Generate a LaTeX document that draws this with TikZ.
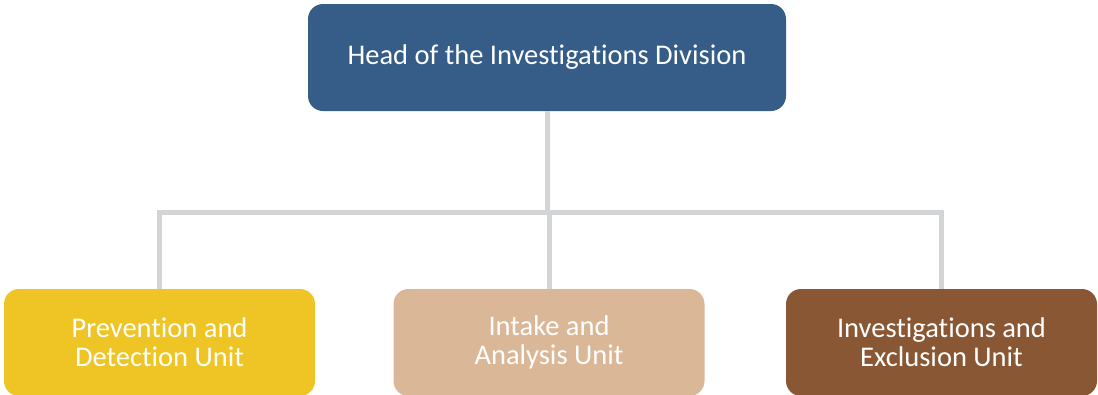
\documentclass[tikz,border=0pt]{standalone}
\usepackage{fontspec}
\setmainfont{Carlito}[Ligatures=NoCommon]
\usetikzlibrary{calc}

\definecolor{headblue}{RGB}{54,93,136}
\definecolor{unityellow}{RGB}{238,197,36}
\definecolor{unittan}{RGB}{218,183,150}
\definecolor{unitbrown}{RGB}{138,87,52}
\definecolor{linegray}{RGB}{211,212,214}

\tikzset{
    unitbox/.style={rectangle, rounded corners=15pt, minimum width=311pt, minimum height=107pt,
        text=white, align=center, font=\fontsize{28.5}{29}\selectfont, inner sep=0pt},
    orgline/.style={draw=linegray, line width=5pt}
}

\begin{document}
\begin{tikzpicture}[x=1pt,y=-1pt]
    \clip (0,0) rectangle (1098,394);  % 画布范围
    \node[unitbox, fill=headblue, minimum width=478pt] (head) at (547,57.5) {Head of the Investigations Division}; % 上方
    \node[unitbox, fill=unityellow] (prev) at (159.5,342.5) {Prevention and\\Detection Unit}; % 左
    \node[unitbox, fill=unittan] (intake) at (549,342.5) {Intake and\\Analysis Unit}; % 中
    \node[unitbox, fill=unitbrown] (excl) at (941.5,342.5) {Investigations and\\Exclusion Unit}; % 右
    \coordinate (bus) at (head.south |- 0,212); % 横线位置
    \draw[orgline] (head.south) -- (bus); % 竖线
    \draw[orgline] (prev.north) -- (prev.north |- bus) -- (excl.north |- bus) -- (excl.north); % 横线
    \draw[orgline] (intake.north) -- (intake.north |- bus); % 中间竖线
\end{tikzpicture}
\end{document}
